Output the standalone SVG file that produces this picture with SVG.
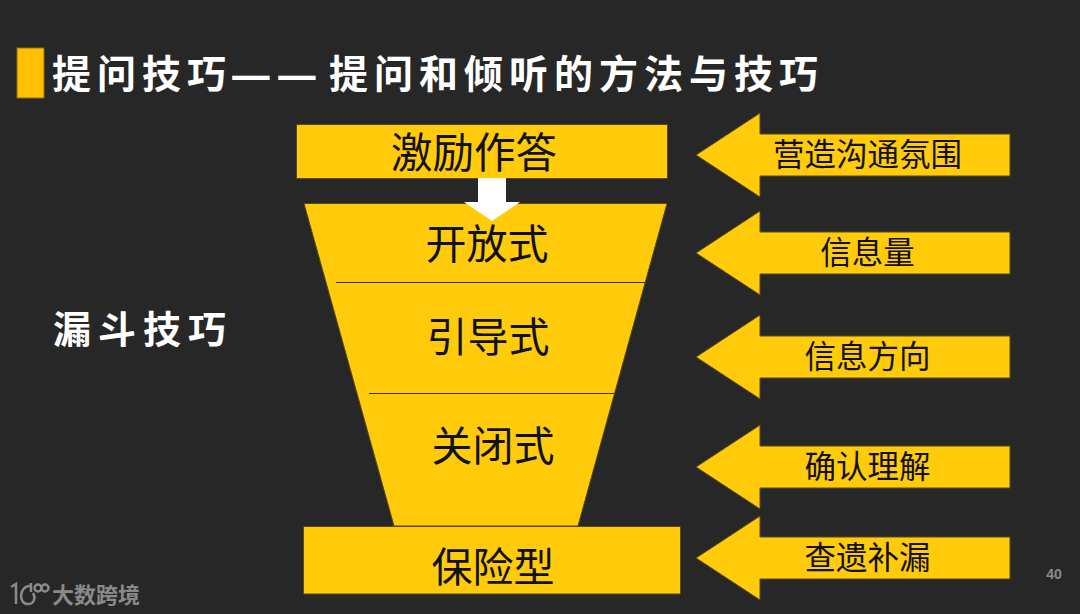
<svg xmlns="http://www.w3.org/2000/svg" width="1080" height="614" viewBox="0 0 1080 614">
<style>
text{font-family:"Noto Sans CJK SC","Liberation Sans",sans-serif}
.s{fill:#ffcb0a;stroke:#5a4a10;stroke-width:1}
.b{font-size:41px;fill:#111;text-anchor:middle}
.l{font-size:31.500px;fill:#111;text-anchor:middle}
.t{font-size:39px;font-weight:700;fill:#fff;letter-spacing:6px}
.h{font-size:46px;font-weight:700;fill:#fff}
.d{stroke:#3a3210;stroke-width:1}
.g{fill:#8a8a8a}
.m{fill:none;stroke:#8a8a8a;stroke-width:2.500}
</style>
<defs><path id="arr" class="s" d="M0 0L64-42V-21H314V21H64V42Z"/></defs>
<rect width="1080" height="614" fill="#272727"/>
<g id="title"><rect x="17" y="48" width="27" height="50" fill="#ffc000" stroke="#8a6d10"/><text class="t" x="52" y="88">提问技巧</text><text class="h" x="230" y="91">—</text><text class="h" x="276" y="91">—</text><text class="t" x="329" y="88">提问和倾听的方法与技巧</text></g>
<g id="left-label"><text class="t" x="53" y="343" style="font-size:38px;letter-spacing:7px">漏斗技巧</text></g>
<g id="node-funnel"><path class="s" d="M304 203.500H667L578 526H394Z"/>
<text class="b" x="487" y="259">开放式</text><text class="b" x="488" y="352">引导式</text><text class="b" x="493" y="461">关闭式</text></g>
<g id="node-top"><rect class="s" x="296.500" y="124.500" width="371" height="54"/><text class="b" x="474" y="168" style="font-size:41.500px">激励作答</text></g>
<g id="node-bottom"><rect class="s" x="303.500" y="526.500" width="377" height="67.500"/><text class="b" x="493" y="582">保险型</text></g>
<g id="dividers"><line class="d" x1="336" y1="282.500" x2="645" y2="282.500"/><line class="d" x1="369" y1="393.500" x2="614" y2="393.500"/></g>
<g id="connectors"><path fill="#fff" d="M478 178H506V202H520L492 221L464 202H478Z"/></g>
<g id="arrow-1"><use href="#arr" x="696" y="155"/><text class="l" x="867.500" y="166">营造沟通氛围</text></g>
<g id="arrow-2"><use href="#arr" x="696" y="253"/><text class="l" x="867.500" y="264">信息量</text></g>
<g id="arrow-3"><use href="#arr" x="696" y="357"/><text class="l" x="867.500" y="368">信息方向</text></g>
<g id="arrow-4"><use href="#arr" x="696" y="467"/><text class="l" x="867.500" y="478">确认理解</text></g>
<g id="arrow-5"><use href="#arr" x="696" y="558"/><text class="l" x="867.500" y="569">查遗补漏</text></g>
<g id="page"><text x="1054" y="579" text-anchor="middle" style="font-family:'Liberation Sans',sans-serif;font-size:14px;font-weight:700" class="g">40</text></g>
<g id="logo"><path class="m" d="M11 587L16 584V604"/><path class="m" d="M30 586C19 586 18 604 28 604C34 604 36 598 33 593"/><path class="m" d="M31 583V592"/><circle class="m" cx="38" cy="588" r="3.500"/><circle class="m" cx="45" cy="588" r="3.500"/><text class="g" x="52" y="603" style="font-size:22px;font-weight:700">大数跨境</text></g>
</svg>
